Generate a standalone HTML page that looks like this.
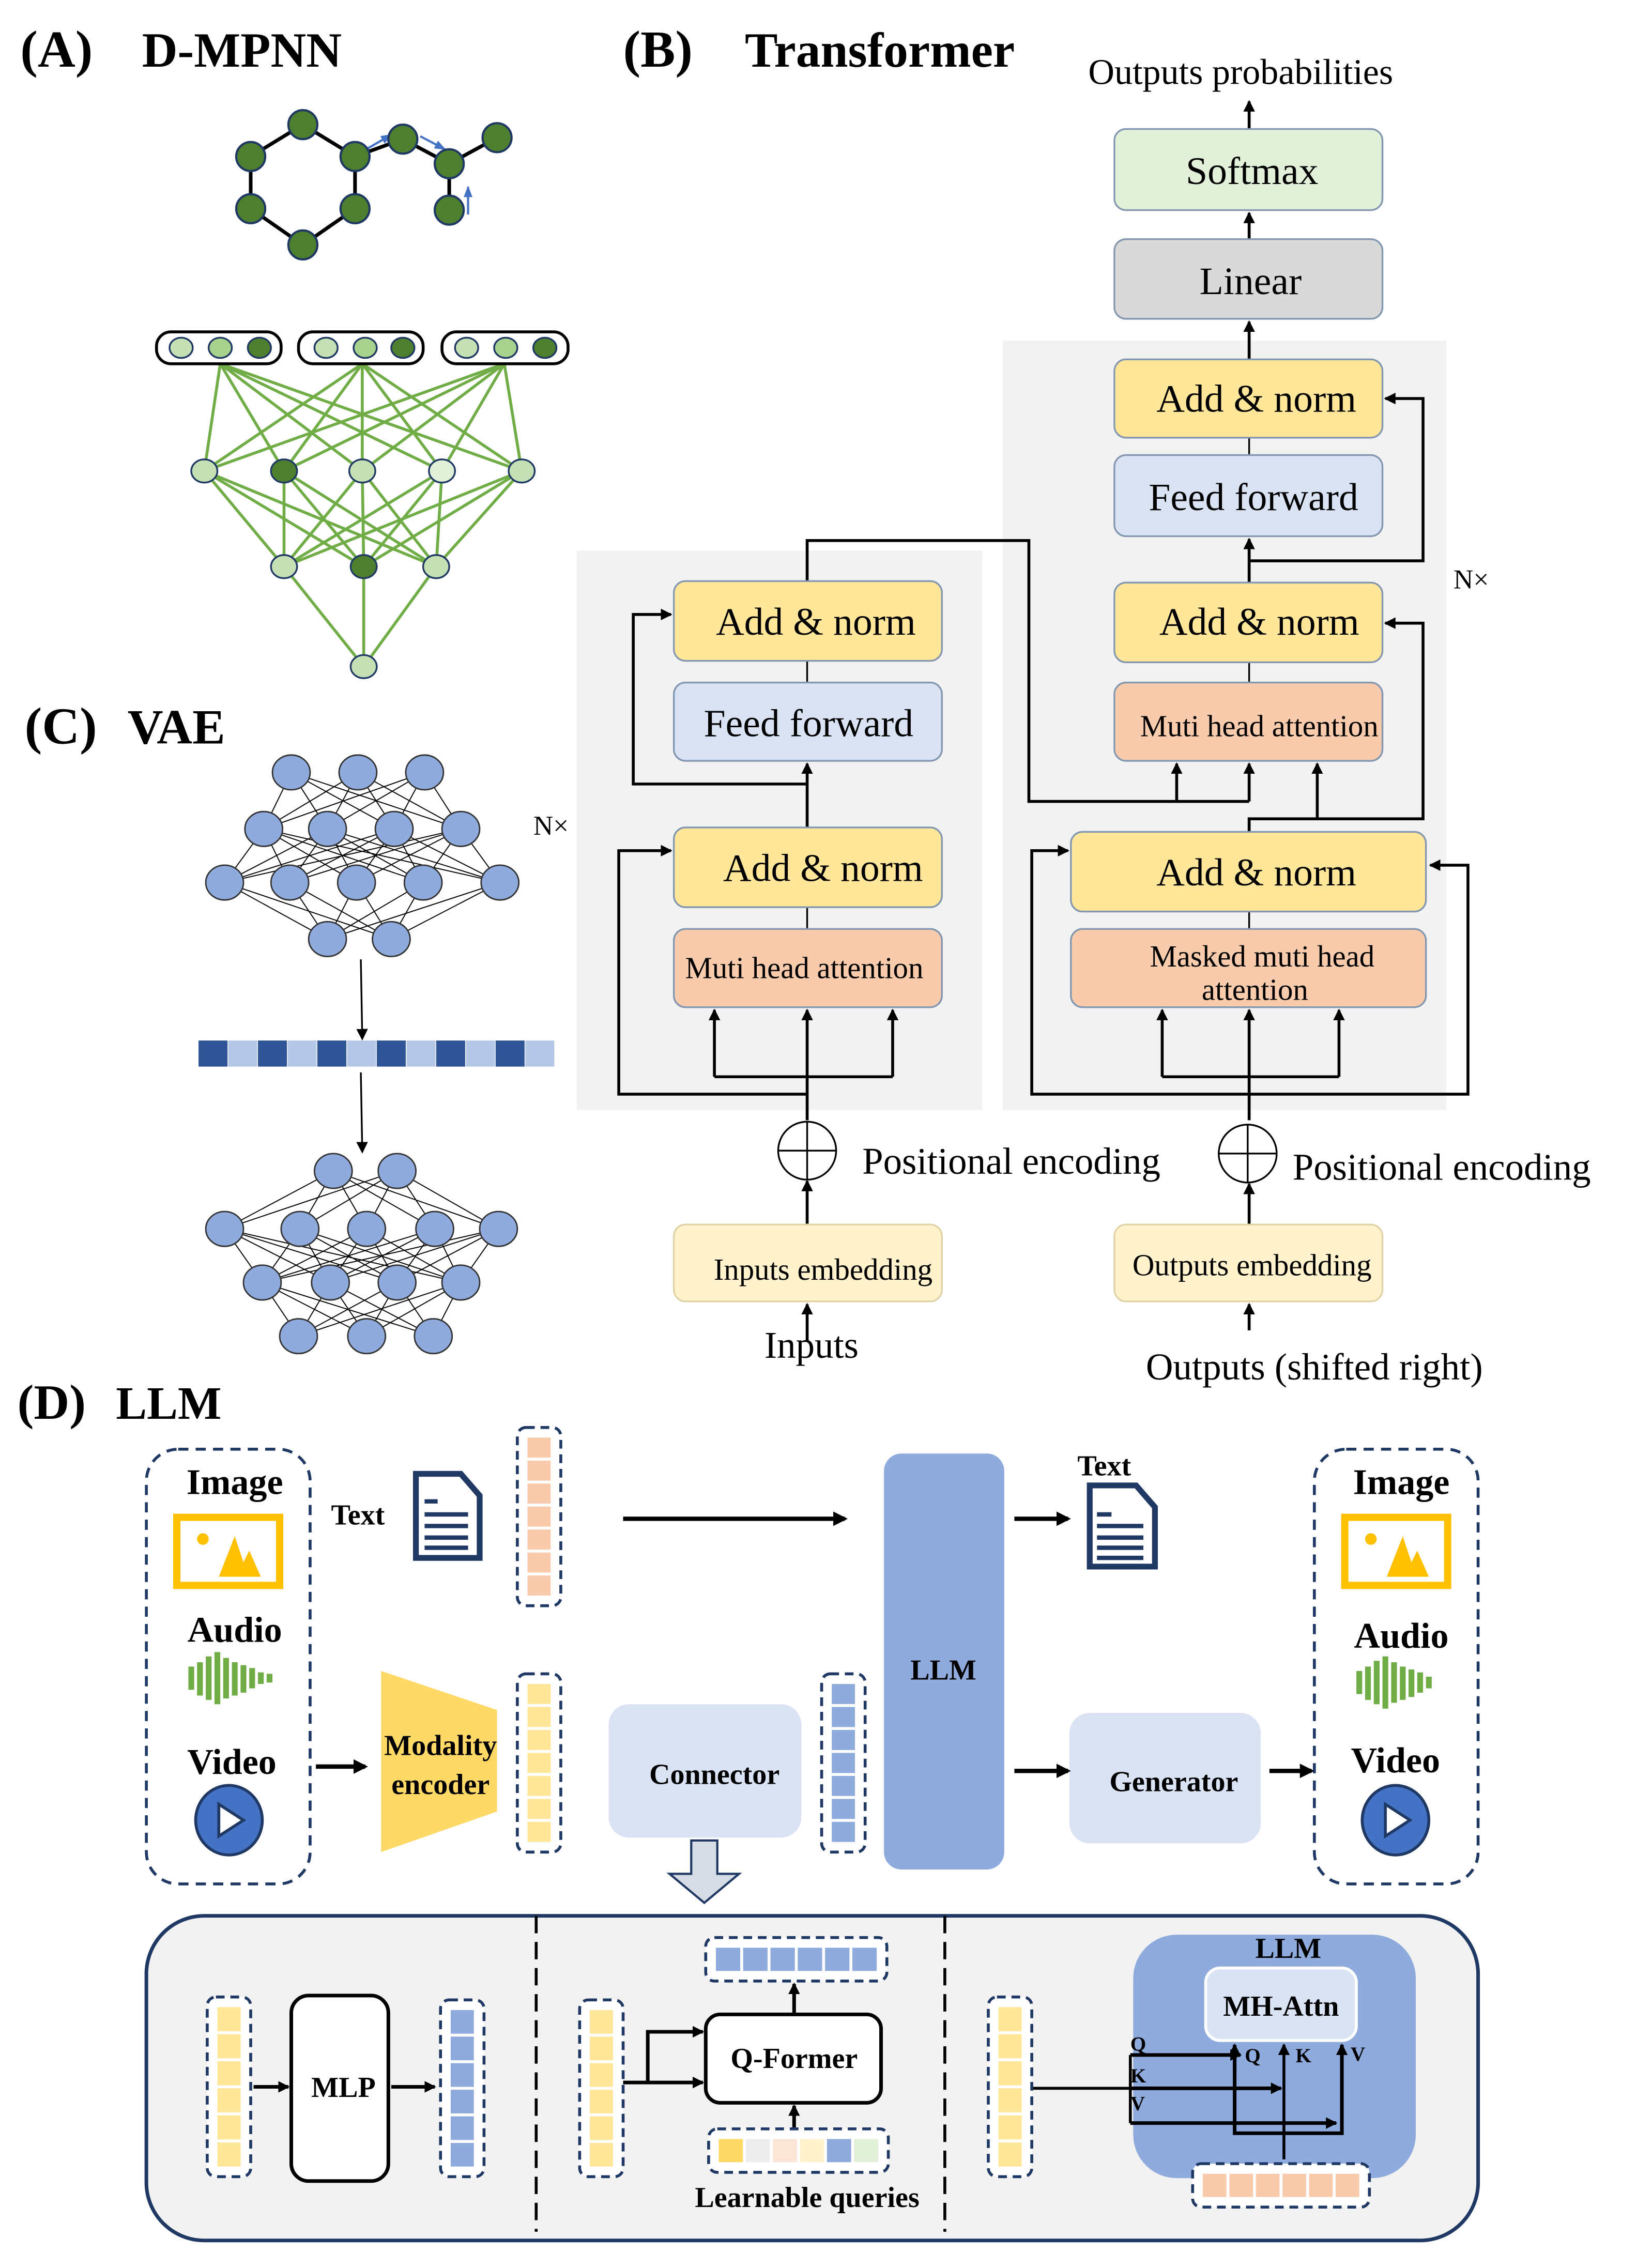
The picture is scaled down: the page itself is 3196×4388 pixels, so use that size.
<!DOCTYPE html>
<html><head><meta charset="utf-8"><style>
html,body{margin:0;padding:0;background:#fff}
svg{display:block}
text{font-family:"Liberation Serif",serif;fill:#000}
.b{font-weight:bold}
</style></head><body>
<svg id="s" width="3196" height="4388" viewBox="0 0 1140 1565" preserveAspectRatio="none" xmlns="http://www.w3.org/2000/svg">
<defs>
<marker id="ah" markerWidth="8" markerHeight="8" refX="7" refY="4" orient="auto" markerUnits="userSpaceOnUse"><path d="M0,0 L8,4 L0,8 z" fill="#000"/></marker>
<marker id="ab" markerWidth="10" markerHeight="10" refX="8" refY="5" orient="auto" markerUnits="userSpaceOnUse"><path d="M0,0 L10,5 L0,10 z" fill="#000"/></marker>
<marker id="bl" markerWidth="8" markerHeight="8" refX="7" refY="4" orient="auto" markerUnits="userSpaceOnUse"><path d="M0,1 L8,4 L0,7 z" fill="#4472c4"/></marker>
</defs>
<g id="lines"></g>

<!-- (A) -->
<text x="14" y="46" font-size="36" class="b">(A)</text>
<text x="98" y="46" font-size="34" class="b">D-MPNN</text>
<g stroke="#000" stroke-width="2.5" fill="none">
<path d="M173,108 L209,86 L245,108 L245,144 L209,169 L173,144 Z"/>
<path d="M245,108 L278,96 L310,113 L343,95 M310,113 L310,145"/>
</g>
<g stroke="#4472c4" stroke-width="1.5">
<line x1="251" y1="104" x2="270" y2="93" marker-end="url(#bl)"/>
<line x1="290" y1="94" x2="307" y2="103" marker-end="url(#bl)"/>
<line x1="323" y1="148" x2="323" y2="129" marker-end="url(#bl)"/>
</g>
<g fill="#4e7f2e" stroke="#1f3864" stroke-width="1.5">
<circle cx="209" cy="86" r="10"/><circle cx="173" cy="108" r="10"/><circle cx="245" cy="108" r="10"/>
<circle cx="173" cy="144" r="10"/><circle cx="245" cy="144" r="10"/><circle cx="209" cy="169" r="10"/>
<circle cx="278" cy="96" r="10"/><circle cx="310" cy="113" r="10"/><circle cx="343" cy="95" r="10"/><circle cx="310" cy="145" r="10"/>
</g>
<g fill="#fff" stroke="#000" stroke-width="2">
<rect x="108" y="229" width="86" height="22" rx="10"/><rect x="206" y="229" width="86" height="22" rx="10"/><rect x="305" y="229" width="87" height="22" rx="10"/>
</g>
<g stroke="#1f3864" stroke-width="1.2">
<ellipse cx="125" cy="240" rx="8" ry="7" fill="#c5e0b4"/><ellipse cx="152" cy="240" rx="8" ry="7" fill="#a9d18e"/><ellipse cx="179" cy="240" rx="8" ry="7" fill="#4e7f2e"/>
<ellipse cx="225" cy="240" rx="8" ry="7" fill="#c5e0b4"/><ellipse cx="252" cy="240" rx="8" ry="7" fill="#a9d18e"/><ellipse cx="278" cy="240" rx="8" ry="7" fill="#4e7f2e"/>
<ellipse cx="322" cy="240" rx="8" ry="7" fill="#c5e0b4"/><ellipse cx="349" cy="240" rx="8" ry="7" fill="#a9d18e"/><ellipse cx="376" cy="240" rx="8" ry="7" fill="#4e7f2e"/>
</g>
<g id="gn"></g>

<!-- (B) -->
<text x="430" y="46" font-size="36" class="b">(B)</text>
<text x="514" y="46" font-size="34" class="b">Transformer</text>
<text x="751" y="58" font-size="25">Outputs probabilities</text>
<rect x="398" y="380" width="280" height="386" fill="#f2f2f2"/>
<rect x="692" y="235" width="306" height="531" fill="#f2f2f2"/>
<g stroke="#000" stroke-width="2" fill="none">
<line x1="557" y1="773" x2="557" y2="697" marker-end="url(#ah)"/>
<line x1="493" y1="743" x2="616" y2="743"/>
<line x1="493" y1="743" x2="493" y2="697" marker-end="url(#ah)"/>
<line x1="616" y1="743" x2="616" y2="697" marker-end="url(#ah)"/>
<path d="M557,755 L427,755 L427,587 L463,587" marker-end="url(#ah)"/>
<line x1="557" y1="571" x2="557" y2="527" marker-end="url(#ah)"/>
<path d="M557,541 L437,541 L437,424 L463,424" marker-end="url(#ah)"/>
<path d="M557,401 L557,373 L710,373 L710,553 L862,553"/>
<line x1="812" y1="553" x2="812" y2="527" marker-end="url(#ah)"/>
<line x1="862" y1="553" x2="862" y2="527" marker-end="url(#ah)"/>
<line x1="557" y1="897" x2="557" y2="815" marker-end="url(#ah)"/>
<line x1="557" y1="925" x2="557" y2="900" marker-end="url(#ah)"/>
<line x1="862" y1="773" x2="862" y2="697" marker-end="url(#ah)"/>
<line x1="802" y1="743" x2="924" y2="743"/>
<line x1="802" y1="743" x2="802" y2="697" marker-end="url(#ah)"/>
<line x1="924" y1="743" x2="924" y2="697" marker-end="url(#ah)"/>
<path d="M862,755 L712,755 L712,587 L737,587" marker-end="url(#ah)"/>
<path d="M862,755 L1013,755 L1013,597 L987,597" marker-end="url(#ah)"/>
<path d="M862,574 L862,565 L982,565 L982,430 L956,430"/>
<path d="M909,565 L909,527" marker-end="url(#ah)"/>
<line x1="862" y1="402" x2="862" y2="372" marker-end="url(#ah)"/>
<path d="M862,387 L982,387 L982,275 L956,275" marker-end="url(#ah)"/>
<line x1="862" y1="248" x2="862" y2="222" marker-end="url(#ah)"/>
<line x1="862" y1="165" x2="862" y2="147" marker-end="url(#ah)"/>
<line x1="862" y1="89" x2="862" y2="70" marker-end="url(#ah)"/>
<line x1="862" y1="845" x2="862" y2="817" marker-end="url(#ah)"/>
<line x1="862" y1="918" x2="862" y2="900" marker-end="url(#ah)"/>
<path d="M966,430 L956,430" marker-end="url(#ah)"/>
</g>
<g stroke="#000" stroke-width="1.2" fill="none">
<line x1="557" y1="456" x2="557" y2="471"/><line x1="557" y1="626" x2="557" y2="641"/>
<line x1="862" y1="302" x2="862" y2="314"/><line x1="862" y1="457" x2="862" y2="471"/><line x1="862" y1="629" x2="862" y2="641"/>
<circle cx="557" cy="794" r="20"/><line x1="537" y1="794" x2="577" y2="794"/><line x1="557" y1="774" x2="557" y2="814"/>
<circle cx="861" cy="796" r="20"/><line x1="841" y1="796" x2="881" y2="796"/><line x1="861" y1="776" x2="861" y2="816"/>
</g>
<g stroke="#8497b0" stroke-width="1.2">
<rect x="465" y="401" width="185" height="55" rx="8" fill="#ffe699"/>
<rect x="465" y="471" width="185" height="54" rx="8" fill="#dae3f3"/>
<rect x="465" y="571" width="185" height="55" rx="8" fill="#ffe699"/>
<rect x="465" y="641" width="185" height="54" rx="8" fill="#f8cbad"/>
<rect x="465" y="845" width="185" height="53" rx="8" fill="#fff2cc" stroke="#e0d3a8"/>
<rect x="769" y="89" width="185" height="56" rx="8" fill="#e2f0d9"/>
<rect x="769" y="165" width="185" height="55" rx="8" fill="#d9d9d9"/>
<rect x="769" y="248" width="185" height="54" rx="8" fill="#ffe699"/>
<rect x="769" y="314" width="185" height="56" rx="8" fill="#dae3f3"/>
<rect x="769" y="402" width="185" height="55" rx="8" fill="#ffe699"/>
<rect x="769" y="471" width="185" height="54" rx="8" fill="#f8cbad"/>
<rect x="739" y="574" width="245" height="55" rx="8" fill="#ffe699"/>
<rect x="739" y="641" width="245" height="54" rx="8" fill="#f8cbad"/>
<rect x="769" y="845" width="185" height="53" rx="8" fill="#fff2cc" stroke="#e0d3a8"/>
</g>
<g font-size="27" text-anchor="middle">
<text x="563" y="438">Add &amp; norm</text>
<text x="558" y="508">Feed forward</text>
<text x="568" y="608">Add &amp; norm</text>
<text x="555" y="675" font-size="21">Muti head attention</text>
<text x="568" y="883" font-size="21">Inputs embedding</text>
<text x="560" y="937" font-size="26">Inputs</text>
<text x="864" y="127">Softmax</text>
<text x="863" y="203">Linear</text>
<text x="867" y="284">Add &amp; norm</text>
<text x="865" y="352">Feed forward</text>
<text x="869" y="438">Add &amp; norm</text>
<text x="869" y="508" font-size="21">Muti head attention</text>
<text x="867" y="611">Add &amp; norm</text>
<text x="871" y="667" font-size="21">Masked muti head</text>
<text x="866" y="690" font-size="21">attention</text>
<text x="864" y="880" font-size="21">Outputs embedding</text>
<text x="907" y="952" font-size="26">Outputs (shifted right)</text>
</g>
<text x="595" y="810" font-size="26">Positional  encoding</text>
<text x="892" y="814" font-size="26">Positional  encoding</text>
<text x="1003" y="406" font-size="19">N×</text>
<text x="368" y="576" font-size="19">N×</text>

<!-- (C) -->
<text x="17" y="513" font-size="36" class="b">(C)</text>
<text x="88" y="513" font-size="34" class="b">VAE</text>
<g id="gv"></g>
<g stroke="#000" stroke-width="1.2"><line x1="249" y1="662" x2="250" y2="717" marker-end="url(#ah)"/><line x1="249" y1="740" x2="250" y2="795" marker-end="url(#ah)"/></g>
<g id="bar"></g>

<!-- (D) -->
<text x="12" y="979" font-size="34" class="b">(D)</text>
<text x="80" y="979" font-size="32" class="b">LLM</text>
<g fill="none" stroke="#1f3864" stroke-width="2" stroke-dasharray="7,5">
<rect x="101" y="1000" width="113" height="300" rx="22"/>
<rect x="907" y="1000" width="113" height="300" rx="22"/>
</g>
<g>
<rect x="122" y="1047" width="71" height="47" fill="#fff" stroke="#ffc000" stroke-width="5"/>
<circle cx="140" cy="1062" r="4" fill="#ffc000"/><path d="M151,1088 L162,1060 L168,1078 L172,1070 L180,1088 Z" fill="#ffc000"/>
<rect x="928" y="1047" width="71" height="47" fill="#fff" stroke="#ffc000" stroke-width="5"/>
<circle cx="946" cy="1062" r="4" fill="#ffc000"/><path d="M957,1088 L968,1060 L974,1078 L978,1070 L986,1088 Z" fill="#ffc000"/>
</g>
<g stroke="#70ad47" stroke-width="4">
<line x1="132" y1="1150" x2="132" y2="1166"/><line x1="138" y1="1147" x2="138" y2="1170"/><line x1="144" y1="1143" x2="144" y2="1173"/><line x1="150" y1="1140" x2="150" y2="1176"/><line x1="156" y1="1144" x2="156" y2="1172"/><line x1="162" y1="1147" x2="162" y2="1170"/><line x1="168" y1="1149" x2="168" y2="1168"/><line x1="174" y1="1151" x2="174" y2="1165"/><line x1="180" y1="1154" x2="180" y2="1162"/><line x1="186" y1="1155" x2="186" y2="1161"/>
</g>
<g stroke="#70ad47" stroke-width="4" transform="translate(806,3)">
<line x1="132" y1="1150" x2="132" y2="1166"/><line x1="138" y1="1147" x2="138" y2="1170"/><line x1="144" y1="1143" x2="144" y2="1173"/><line x1="150" y1="1140" x2="150" y2="1176"/><line x1="156" y1="1144" x2="156" y2="1172"/><line x1="162" y1="1147" x2="162" y2="1170"/><line x1="168" y1="1149" x2="168" y2="1168"/><line x1="174" y1="1151" x2="174" y2="1165"/><line x1="180" y1="1154" x2="180" y2="1162"/>
</g>
<g stroke="#1f3864" stroke-width="2">
<ellipse cx="158" cy="1256" rx="23" ry="24" fill="#4472c4"/><path d="M151,1245 L168,1256 L151,1267 Z" fill="#fff"/>
<ellipse cx="963" cy="1256" rx="23" ry="24" fill="#4472c4"/><path d="M956,1245 L973,1256 L956,1267 Z" fill="#fff"/>
</g>
<g fill="#fff" stroke="#1f3864" stroke-width="4">
<path d="M287,1017 L318,1017 L331,1032 L331,1075 L287,1075 Z"/>
<path d="M752,1025 L784,1025 L797,1040 L797,1081 L752,1081 Z"/>
</g>
<g stroke="#1f3864" stroke-width="3">
<line x1="293" y1="1036" x2="302" y2="1036"/><line x1="293" y1="1045" x2="323" y2="1045"/><line x1="293" y1="1053" x2="323" y2="1053"/><line x1="293" y1="1061" x2="323" y2="1061"/><line x1="293" y1="1068" x2="323" y2="1068"/>
<line x1="757" y1="1045" x2="767" y2="1045"/><line x1="757" y1="1053" x2="789" y2="1053"/><line x1="757" y1="1061" x2="789" y2="1061"/><line x1="757" y1="1068" x2="789" y2="1068"/><line x1="757" y1="1075" x2="789" y2="1075"/>
</g>
<polygon points="263,1153 343,1180 343,1250 263,1278" fill="#ffd966"/>
<rect x="420" y="1176" width="133" height="92" rx="14" fill="#dae3f3"/>
<rect x="738" y="1182" width="132" height="90" rx="14" fill="#dae3f3"/>
<rect x="610" y="1003" width="83" height="287" rx="12" fill="#8faadc"/>
<path d="M477,1270 L495,1270 L495,1293 L510,1293 L486,1313 L462,1293 L477,1293 Z" fill="#d6dce4" stroke="#1f3864" stroke-width="1.5"/>
<g stroke="#000" stroke-width="3" fill="none">
<line x1="430" y1="1048" x2="583" y2="1048" marker-end="url(#ab)"/>
<line x1="700" y1="1048" x2="737" y2="1048" marker-end="url(#ab)"/>
<line x1="218" y1="1219" x2="252" y2="1219" marker-end="url(#ab)"/>
<line x1="700" y1="1222" x2="737" y2="1222" marker-end="url(#ab)"/>
<line x1="876" y1="1222" x2="905" y2="1222" marker-end="url(#ab)"/>
</g>
<g font-size="25" class="b" text-anchor="middle">
<text x="162" y="1031">Image</text><text x="162" y="1133">Audio</text><text x="160" y="1224">Video</text>
<text x="967" y="1031">Image</text><text x="967" y="1137">Audio</text><text x="963" y="1223">Video</text>
<text x="247" y="1052" font-size="20">Text</text><text x="762" y="1018" font-size="20">Text</text>
<text x="304" y="1211" font-size="20">Modality</text><text x="304" y="1238" font-size="20">encoder</text>
<text x="493" y="1231" font-size="20">Connector</text>
<text x="810" y="1236" font-size="20">Generator</text>
<text x="651" y="1159" font-size="20">LLM</text>
</g>
<g id="tok"></g>
<rect x="101" y="1322" width="919" height="224" rx="40" fill="#f2f2f2" stroke="#1f3864" stroke-width="2.5"/>
<g stroke="#000" stroke-width="2" stroke-dasharray="12,6"><line x1="370" y1="1322" x2="370" y2="1540"/><line x1="652" y1="1322" x2="652" y2="1540"/></g>
<rect x="201" y="1377" width="67" height="128" rx="12" fill="#fff" stroke="#000" stroke-width="2.5"/>
<rect x="487" y="1390" width="121" height="61" rx="10" fill="#fff" stroke="#000" stroke-width="2.5"/>
<rect x="782" y="1335" width="195" height="168" rx="30" fill="#8faadc"/>
<rect x="832" y="1358" width="104" height="50" rx="10" fill="#dae3f3" stroke="#fff" stroke-width="2"/>
<g font-size="20" class="b" text-anchor="middle">
<text x="237" y="1447">MLP</text><text x="548" y="1427">Q-Former</text>
<text x="557" y="1523">Learnable queries</text>
<text x="889" y="1351">LLM</text><text x="884" y="1391">MH-Attn</text>
</g>
<g font-size="14" class="b">
<text x="780" y="1415">Q</text><text x="780" y="1437">K</text><text x="780" y="1456">V</text>
<text x="859" y="1423">Q</text><text x="894" y="1423">K</text><text x="932" y="1422">V</text>
</g>
<g stroke="#000" stroke-width="2.5" fill="none">
<line x1="175" y1="1440" x2="199" y2="1440" marker-end="url(#ah)"/>
<line x1="270" y1="1440" x2="300" y2="1440" marker-end="url(#ah)"/>
<path d="M430,1437 L485,1437" marker-end="url(#ah)"/>
<path d="M447,1437 L447,1402 L485,1402" marker-end="url(#ah)"/>
<line x1="548" y1="1390" x2="548" y2="1369" marker-end="url(#ah)"/>
<line x1="548" y1="1468" x2="548" y2="1453" marker-end="url(#ah)"/>
<line x1="712" y1="1441" x2="780" y2="1441" stroke-width="2"/>
<line x1="780" y1="1418" x2="780" y2="1465" stroke-width="2"/>
<line x1="780" y1="1418" x2="856" y2="1418" marker-end="url(#ah)"/>
<line x1="780" y1="1441" x2="884" y2="1441" marker-end="url(#ah)"/>
<line x1="780" y1="1465" x2="922" y2="1465" marker-end="url(#ah)"/>
<path d="M852,1413 L852,1472 L926,1472 L926,1411" marker-end="url(#ah)"/>
<line x1="852" y1="1430" x2="852" y2="1411" marker-end="url(#ah)"/>
<line x1="886" y1="1490" x2="886" y2="1411" stroke-width="2" marker-end="url(#ah)"/>
</g>
</svg>
<script>
var NS="http://www.w3.org/2000/svg";
function el(p,t,a){var e=document.createElementNS(NS,t);for(var k in a)e.setAttribute(k,a[k]);p.appendChild(e);return e;}
var L=document.getElementById('lines');
function full(A,B,c,w){A.forEach(function(a){B.forEach(function(b){el(L,'line',{x1:a[0],y1:a[1],x2:b[0],y2:b[1],stroke:c,'stroke-width':w});});});}
var t=[[152,251],[250,251],[348,251]],l2=[[141,325],[196,325],[250,325],[305,325],[360,325]],l3=[[196,391],[251,391],[301,391]],l4=[[251,460]];
full(t,l2,'#70ad47',2);full(l2,l3,'#70ad47',2);full(l3,l4,'#70ad47',2);
var gn=document.getElementById('gn');
var cols2=['#c5e0b4','#4e7f2e','#c5e0b4','#e2f0d9','#c5e0b4'],cols3=['#c5e0b4','#4e7f2e','#c5e0b4'];
l2.forEach(function(p,i){el(gn,'ellipse',{cx:p[0],cy:p[1],rx:9,ry:8,fill:cols2[i],stroke:'#1f3864','stroke-width':1.2});});
l3.forEach(function(p,i){el(gn,'ellipse',{cx:p[0],cy:p[1],rx:9,ry:8,fill:cols3[i],stroke:'#1f3864','stroke-width':1.2});});
el(gn,'ellipse',{cx:251,cy:460,rx:9,ry:8,fill:'#c5e0b4',stroke:'#1f3864','stroke-width':1.2});
function row(y,xs){return xs.map(function(x){return [x,y];});}
var e1=row(533,[201,247,293]),e2=row(572,[182,226,272,318]),e3=row(609,[155,200,246,292,345]),e4=row(648,[226,270]);
var d1=row(808,[230,274]),d2=row(848,[155,207,253,300,344]),d3=row(885,[181,228,274,318]),d4=row(922,[206,253,299]);
full(e1,e2,'#000',0.7);full(e2,e3,'#000',0.7);full(e3,e4,'#000',0.7);
full(d1,d2,'#000',0.7);full(d2,d3,'#000',0.7);full(d3,d4,'#000',0.7);
var gv=document.getElementById('gv');
[e1,e2,e3,e4,d1,d2,d3,d4].forEach(function(r){r.forEach(function(p){el(gv,'ellipse',{cx:p[0],cy:p[1],rx:13,ry:12,fill:'#8faadc',stroke:'#333','stroke-width':1});});});
var bar=document.getElementById('bar');
for(var i=0;i<12;i++){el(bar,'rect',{x:137+i*20.5,y:718,width:20,height:18,fill:i%2?'#b4c7e7':'#2f5597'});}
var tk=document.getElementById('tok');
function vcol(x,y,h,n,c){el(tk,'rect',{x:x,y:y,width:30,height:h,rx:6,fill:'#fff',stroke:'#1f3864','stroke-width':2,'stroke-dasharray':'6,4'});var ch=(h-12)/n;for(var i=0;i<n;i++){el(tk,'rect',{x:x+7,y:y+6+i*ch+1,width:16,height:ch-2,fill:c});}}
function hrow(x,y,w,cs){el(tk,'rect',{x:x,y:y,width:w,height:30,rx:6,fill:'#fff',stroke:'#1f3864','stroke-width':2,'stroke-dasharray':'6,4'});var cw=(w-12)/cs.length;cs.forEach(function(c,i){el(tk,'rect',{x:x+6+i*cw+1,y:y+7,width:cw-2,height:16,fill:c});});}
vcol(357,985,123,7,'#f8cbad');vcol(357,1155,123,7,'#ffe699');vcol(567,1155,123,7,'#8faadc');
</script>
<script>
var tk2=document.createElementNS(NS,'g');document.getElementById('s').appendChild(tk2);tk=tk2;
vcol(143,1378,124,6,'#ffe699');vcol(304,1380,122,6,'#8faadc');vcol(400,1380,122,6,'#ffe699');vcol(682,1378,124,6,'#ffe699');
hrow(487,1337,125,['#8faadc','#8faadc','#8faadc','#8faadc','#8faadc','#8faadc']);
hrow(489,1469,124,['#ffd966','#ededed','#fbe5d6','#fff2cc','#8faadc','#e2f0d9']);
hrow(823,1493,122,['#f8cbad','#f8cbad','#f8cbad','#f8cbad','#f8cbad','#f8cbad']);
</script>
</body></html>
